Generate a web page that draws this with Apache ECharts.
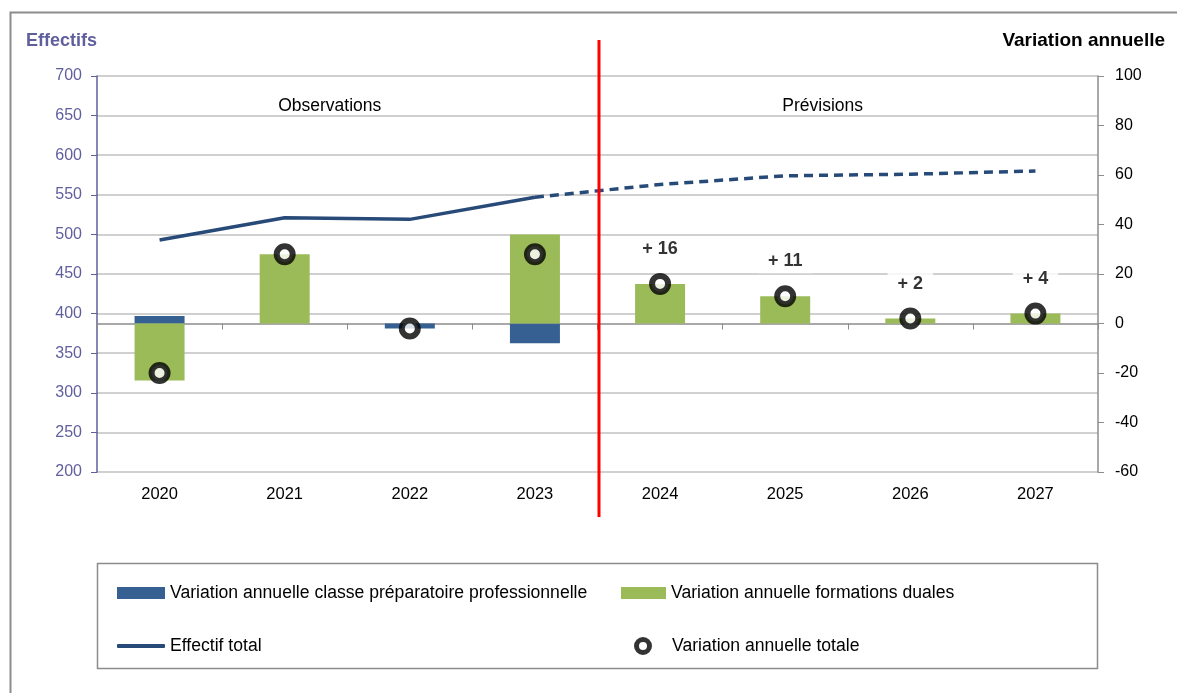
<!DOCTYPE html>
<html><head><meta charset="utf-8">
<script src="https://cdn.jsdelivr.net/npm/echarts@6/dist/echarts.min.js"></script>
<style>html,body{margin:0;padding:0;background:#fff}#c{width:1177px;height:693px}</style>
</head><body><div id="c"></div>
<script>
const years = ['2020','2021','2022','2023','2024','2025','2026','2027'];
const leftTicks = [200,250,300,350,400,450,500,550,600,650,700];
const rightTicks = [-60,-40,-20,0,20,40,60,80,100];
const varPrepa = [3, 0, -2, -8, 0, 0, 0, 0];
const varDuales = [-23, 28, 0, 36, 16, 11, 2, 4];
const varTotale = [-20, 28, -2, 28, 16, 11, 2, 4];
const effectifObs = [493, 521, 519, 547, null, null, null, null];
const effectifPrev = [null, null, null, 547, 563, 574, 576, 580];
const labelFrom = 4;

const FONT = '"Liberation Sans",Arial,sans-serif';
const chart = echarts.init(document.getElementById('c'));
const purple = '#5f5f9e';
const lineCol = '#274a78';
const LF = 17.6;

const opt = {
  animation: false,
  textStyle: {fontFamily: FONT},
  grid: {left: 97, right: 79, top: 76, bottom: 221},
  xAxis: {
    type: 'category', data: years,
    axisLine: {onZero: true, onZeroAxisIndex: 1, lineStyle: {color: '#8c8c8c', width: 1.5}},
    axisTick: {show: true, length: 6, lineStyle: {color: '#8c8c8c'}},
    axisLabel: {color: '#000', fontSize: 16.5, fontFamily: FONT, margin: 14},
    splitLine: {show: false}
  },
  yAxis: [
    {type: 'value', min: 200, max: 700, interval: 50, position: 'left',
     axisLine: {show: true, onZero: false, lineStyle: {color: purple, width: 1.5}},
     axisTick: {show: true, length: 6, lineStyle: {color: purple}},
     axisLabel: {color: purple, fontSize: 16, fontFamily: FONT, margin: 15},
     splitLine: {show: true, lineStyle: {color: '#c0c0c0', width: 1.5}}},
    {type: 'value', min: -60, max: 100, interval: 20, position: 'right',
     axisLine: {show: true, onZero: false, lineStyle: {color: '#8c8c8c', width: 1.5}},
     axisTick: {show: true, length: 6, lineStyle: {color: '#8c8c8c'}},
     axisLabel: {color: '#000', fontSize: 16, fontFamily: FONT, margin: 17},
     splitLine: {show: false}}
  ],
  legend: [
    {left: 112, top: 579, itemWidth: 48, itemHeight: 12, itemGap: 8,
     textStyle: {fontSize: LF, color: '#000', fontFamily: FONT},
     data: [{name: 'Variation annuelle classe préparatoire professionnelle', icon: 'rect'}]},
    {left: 616, top: 579, itemWidth: 45, itemHeight: 12,
     textStyle: {fontSize: LF, color: '#000', fontFamily: FONT},
     data: [{name: 'Variation annuelle formations duales', icon: 'rect'}]},
    {left: 112, top: 632, itemWidth: 48, itemHeight: 4,
     textStyle: {fontSize: LF, color: '#000', fontFamily: FONT},
     data: [{name: 'Effectif total', icon: 'roundRect', itemStyle: {color: lineCol, borderWidth: 0}}]},
    {left: 629, top: 632, itemWidth: 48, itemHeight: 13,
     textStyle: {fontSize: LF, color: '#000', fontFamily: FONT},
     data: [{name: 'Variation annuelle totale', icon: 'circle',
       itemStyle: {color: '#fff', borderColor: '#000', borderWidth: 5}}]}
  ],
  series: [
    {name: 'Variation annuelle classe préparatoire professionnelle', type: 'bar', yAxisIndex: 1,
     stack: 'v', barWidth: 50, data: varPrepa, itemStyle: {color: '#376092'}, z: 2},
    {name: 'Variation annuelle formations duales', type: 'bar', yAxisIndex: 1,
     stack: 'v', barWidth: 50, data: varDuales, itemStyle: {color: '#9bbb59'}, z: 2},
    {name: 'Effectif total', type: 'line', yAxisIndex: 0, data: effectifObs,
     symbol: 'none', lineStyle: {color: lineCol, width: 3.5}, itemStyle: {color: lineCol}, z: 3},
    {name: 'Effectif total prev', type: 'line', yAxisIndex: 0, data: effectifPrev,
     symbol: 'none', lineStyle: {color: lineCol, width: 3.5, type: [9, 6]}, z: 3},
    {name: 'Variation annuelle totale', type: 'scatter', yAxisIndex: 1,
     symbol: 'circle', symbolSize: 16,
     itemStyle: {color: '#fff', borderColor: '#000', borderWidth: 6},
     data: varTotale.map((v, i) => ({
       value: v,
       label: i >= labelFrom ? {show: true, position: 'top', distance: 12,
         formatter: (v >= 0 ? '+ ' : '- ') + Math.abs(v),
         backgroundColor: '#fff', padding: [3, 10],
         fontSize: 18, fontWeight: 'bold', color: '#000', fontFamily: FONT} : {show: false}
     })), z: 5}
  ],
  graphic: [
    {type: 'rect', shape: {x: 10.5, y: 12.5, width: 1200, height: 700}, style: {fill: 'none', stroke: '#8c8c8c', lineWidth: 2}, silent: true},
    {type: 'rect', shape: {x: 97.5, y: 563.5, width: 1000, height: 105}, style: {fill: 'none', stroke: '#8c8c8c', lineWidth: 1.5}, silent: true},
    {type: 'text', left: 26, top: 32, style: {text: 'Effectifs', fill: purple, font: 'bold 18px ' + FONT}},
    {type: 'text', right: 12, top: 31, style: {text: 'Variation annuelle', fill: '#000', font: 'bold 19px ' + FONT}}
  ]
};
chart.setOption(opt);

const px = i => chart.convertToPixel({xAxisIndex: 0}, i);
const band = px(1) - px(0);
const mid = (px(3) + px(4)) / 2 + 1.5;
const xObs = px(1) + 0.36 * band;
const xPrev = px(5) + 0.3 * band;
const yTxt = chart.convertToPixel({yAxisIndex: 0}, 662);
chart.setOption({graphic: [
  opt.graphic[0], opt.graphic[1], opt.graphic[2], opt.graphic[3],
  {type: 'line', shape: {x1: mid, y1: 40, x2: mid, y2: 517}, style: {stroke: '#ff0000', lineWidth: 3}, z: 10},
  {type: 'text', x: xObs, y: yTxt, style: {text: 'Observations', fill: '#000', font: '17.5px ' + FONT, textAlign: 'center', textVerticalAlign: 'middle'}},
  {type: 'text', x: xPrev, y: yTxt, style: {text: 'Prévisions', fill: '#000', font: '17.5px ' + FONT, textAlign: 'center', textVerticalAlign: 'middle'}}
]});
</script></body></html>
